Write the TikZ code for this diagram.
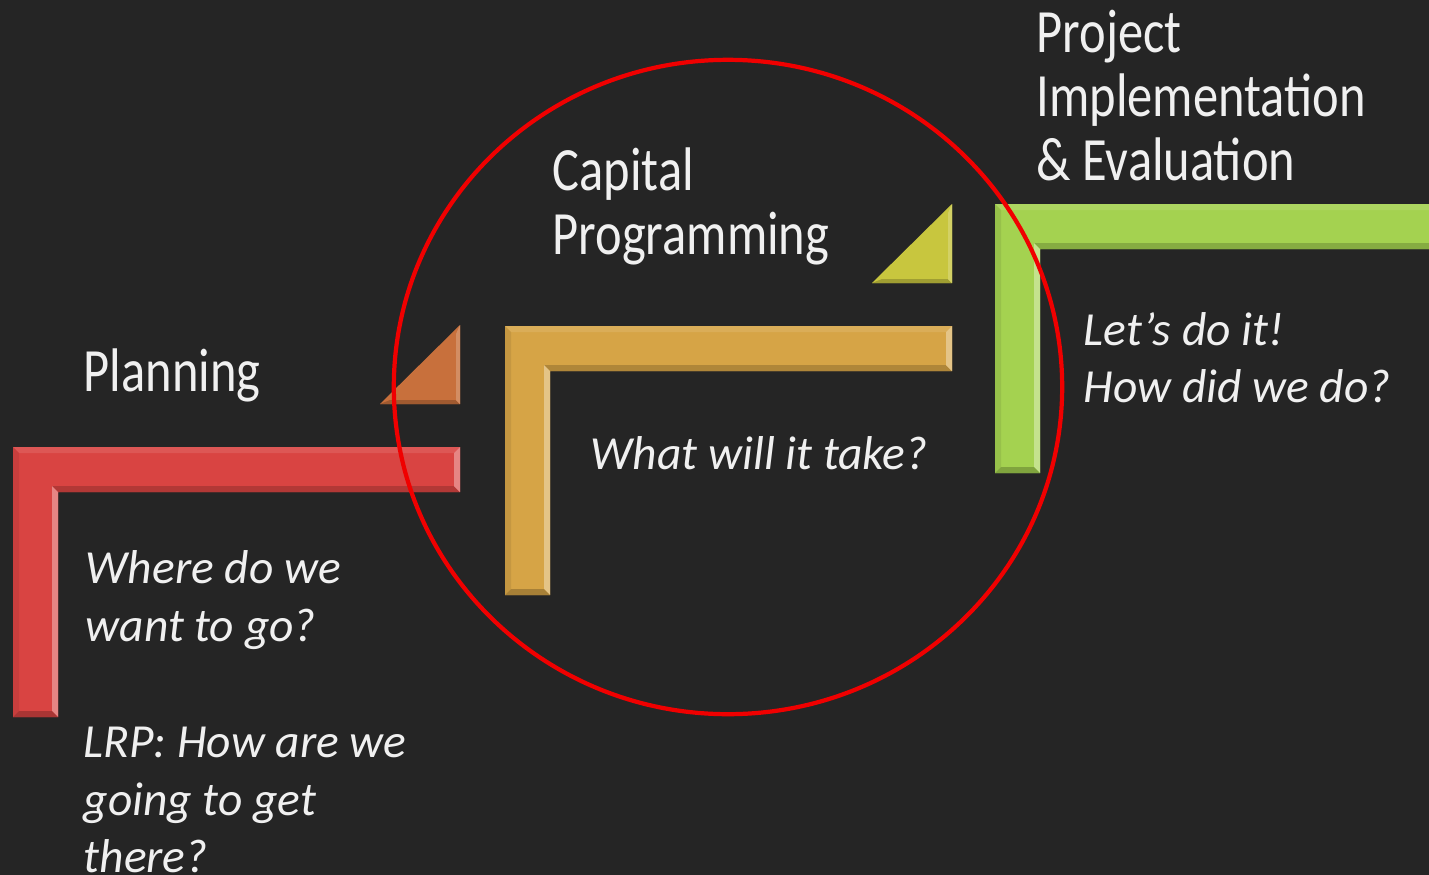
\documentclass[tikz,border=0pt]{standalone}
\usepackage{fontspec}
\setmainfont{Carlito}
\newfontfamily\headfont[FakeStretch=0.82]{Carlito}
\usetikzlibrary{positioning}
\definecolor{bgdark}{RGB}{37,37,37}
\definecolor{stepred}{RGB}{217,68,66}
\definecolor{stepgold}{RGB}{214,164,70}
\definecolor{stepgreen}{RGB}{164,210,80}
\definecolor{wedgeorange}{RGB}{200,112,60}
\definecolor{wedgeyellow}{RGB}{200,198,62}
\definecolor{ringred}{RGB}{240,0,0}
\tikzset{
  head/.style={anchor=base west,inner sep=0pt,text=white!94!black,
    font=\headfont\fontsize{17.5}{21}\selectfont},
  ask/.style={anchor=base west,inner sep=0pt,text=white!94!black,
    font=\fontsize{13.5}{16}\selectfont\itshape},
  ring/.style={draw=ringred,line width=1.2pt},
}

\begin{document}
\begin{tikzpicture}[x=0.01cm,y=-0.01cm]
  \fill[bgdark] (0,0) rectangle (1429,875);
  \useasboundingbox (0,0) rectangle (1429,875);
  % steps (L bars with bevelled edges)
  \foreach \x/\y/\xe/\yb/\c in {13/447/460/717/stepred,
      505/326/952/595/stepgold,995/204/1440/473/stepgreen}{
    \fill[\c] (\x,\y) -- (\xe,\y) -- (\xe,\y+45) -- (\x+45,\y+45)
      -- (\x+45,\yb) -- (\x,\yb) -- cycle;
    \fill[\c!90!white] (\x,\y) -- (\xe,\y) -- (\xe-6,\y+6) -- (\x+6,\y+6) -- cycle;
    \fill[\c!92!black] (\x,\y) -- (\x,\yb) -- (\x+6,\yb-6) -- (\x+6,\y+6) -- cycle;
    \fill[\c!82!black] (\x+45,\y+45) -- (\xe,\y+45) -- (\xe-6,\y+39) -- (\x+39,\y+39) -- cycle;
    \fill[\c!65!white] (\x+45,\y+45) -- (\x+45,\yb) -- (\x+39,\yb-6) -- (\x+39,\y+39) -- cycle;
    \fill[\c!65!white] (\xe,\y) -- (\xe,\y+45) -- (\xe-6,\y+39) -- (\xe-6,\y+6) -- cycle;
    \fill[\c!78!black] (\x,\yb) -- (\x+45,\yb) -- (\x+39,\yb-6) -- (\x+6,\yb-6) -- cycle;
  }
  % small wedges
  \foreach \xr/\yb/\c in {460/404/wedgeorange,952/283/wedgeyellow}{
    \fill[\c] (\xr-80,\yb) -- (\xr,\yb-79) -- (\xr,\yb) -- cycle;
    \fill[\c!80!black] (\xr-80,\yb) -- (\xr,\yb) -- (\xr-4,\yb-4) -- (\xr-70,\yb-4) -- cycle;
    \fill[\c!80!white] (\xr,\yb-79) -- (\xr,\yb) -- (\xr-4,\yb-4) -- (\xr-4,\yb-70) -- cycle;
  }
  % headings
  \node[head] (plan) at (83,391) {Planning};
  \node[head] (cap1) at (552,190) {Capital};
  \node[head] (cap2) at (552,254) {Programming};
  \node[head] (proj1) at (1036,52) {Project};
  \node[head] (proj2) at (1036,116) {Implementation};
  \node[head] (proj3) at (1036,180) {\& Evaluation};
  % questions
  \node[ask] (where1) at (85,583) {Where do we};
  \node[ask] (where2) at (85,641) {want to go?};
  \node[ask] (lrp1) at (83,757) {LRP: How are we};
  \node[ask] (lrp2) at (83,815) {going to get};
  \node[ask] (lrp3) at (83,872) {there?};
  \node[ask] (take) at (590,469) {What will it take?};
  \node[ask] (doit1) at (1083,345) {Let’s do it!};
  \node[ask] (doit2) at (1083,402) {How did we do?};
  % focus ring
  \draw[ring] (728,387) ellipse [x radius=3.34cm, y radius=3.27cm];
\end{tikzpicture}
\end{document}
